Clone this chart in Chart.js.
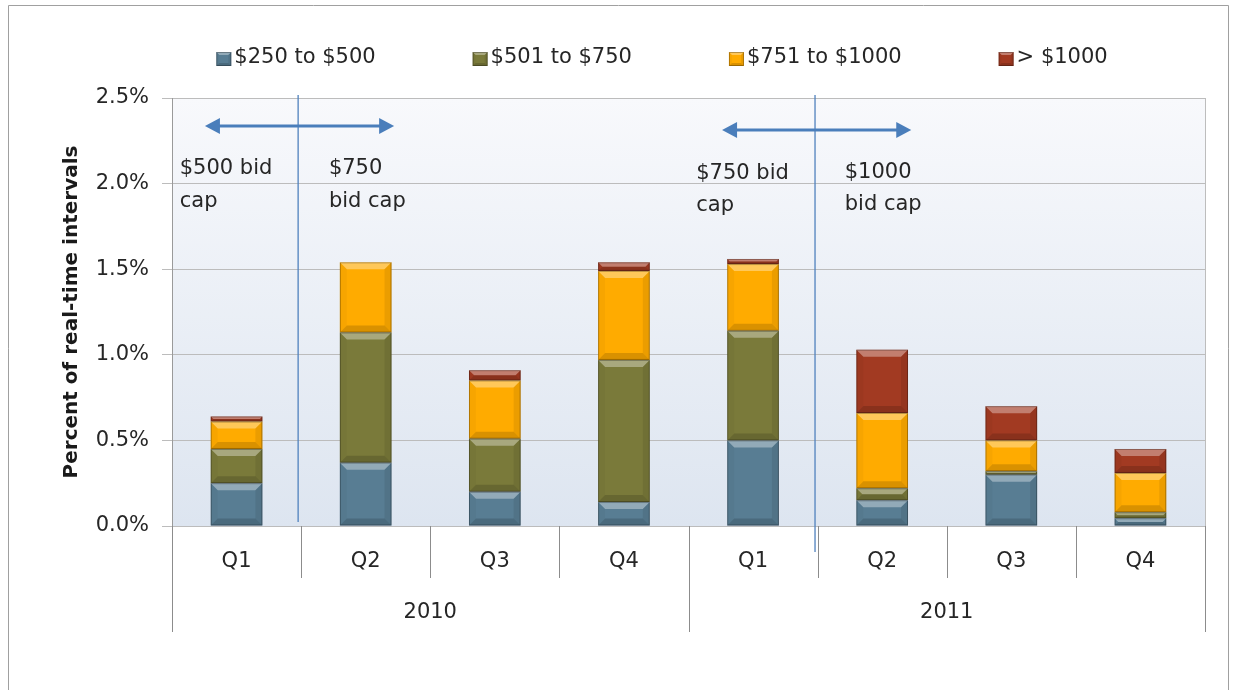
<!DOCTYPE html>
<html><head><meta charset="utf-8">
<script src="https://cdn.jsdelivr.net/npm/chart.js@4.4.0/dist/chart.umd.min.js"></script>
<style>html,body{margin:0;padding:0;background:#fff;overflow:hidden}#wrap{width:1235px;height:690px;position:relative}</style>
</head><body><div id="wrap"><canvas id="c" width="1235" height="690"></canvas></div>
<script>
// ---- data ----
const categories = ['Q1','Q2','Q3','Q4','Q1','Q2','Q3','Q4'];
const years = ['2010','2011'];
const seriesNames = ['$250 to $500','$501 to $750','$751 to $1000','> $1000'];
const s250to500  = [0.25, 0.37, 0.20, 0.14, 0.50, 0.15, 0.30, 0.045];
const s501to750  = [0.20, 0.76, 0.31, 0.83, 0.64, 0.07, 0.02, 0.035];
const s751to1000 = [0.16, 0.41, 0.34, 0.52, 0.39, 0.44, 0.18, 0.23];
const sOver1000  = [0.03, 0.00, 0.06, 0.05, 0.03, 0.37, 0.20, 0.14];
const yTickValues = [0, 0.5, 1.0, 1.5, 2.0, 2.5];
const yTitle = 'Percent of real-time intervals';
const capLeftText2010 = ['$500 bid','cap'];
const capRightText2010 = ['$750','bid cap'];
const capLeftText2011 = ['$750 bid','cap'];
const capRightText2011 = ['$1000','bid cap'];

// ---- styles ----
const FONT = 'DejaVu Sans';
const TXT = '#262626';
const colors = ['#587d93', '#7a7a3a', '#ffab00', '#a23a22'];
Chart.defaults.font.family = FONT;
Chart.defaults.color = TXT;

function poly(ctx, pts){ctx.beginPath();ctx.moveTo(pts[0][0],pts[0][1]);for(let i=1;i<pts.length;i++)ctx.lineTo(pts[i][0],pts[i][1]);ctx.closePath();ctx.fill();}
function bevel(ctx,l,t,r,b,big){
  const w=r-l,h=b-t; if(h<0.8) return;
  const d=Math.min(big?7:3,h/2,w/2);
  ctx.save();
  ctx.fillStyle='rgba(255,255,255,0.35)'; poly(ctx,[[l,t],[r,t],[r-d,t+d],[l+d,t+d]]);
  ctx.fillStyle='rgba(0,0,0,0.03)'; poly(ctx,[[l,t],[l+d,t+d],[l+d,b-d],[l,b]]);
  ctx.fillStyle='rgba(0,0,0,0.08)'; poly(ctx,[[r,t],[r,b],[r-d,b-d],[r-d,t+d]]);
  ctx.fillStyle='rgba(0,0,0,0.15)'; poly(ctx,[[l,b],[r,b],[r-d,b-d],[l+d,b-d]]);
  ctx.strokeStyle='rgba(0,0,0,0.28)'; ctx.lineWidth=1; ctx.strokeRect(l+0.5,t+0.5,w-1,Math.max(h-1,0));
  ctx.restore();
}

const decor = {
  id:'decor',
  beforeDraw(chart){
    const {ctx, chartArea:a} = chart;
    ctx.save();
    ctx.fillStyle='#fff'; ctx.fillRect(0,0,chart.width,chart.height);
    const g=ctx.createLinearGradient(0,a.top,0,a.bottom);
    g.addColorStop(0,'#f8f9fc'); g.addColorStop(1,'#dde5f0');
    ctx.fillStyle=g; ctx.fillRect(a.left,a.top,a.right-a.left,a.bottom-a.top);
    ctx.strokeStyle='#a0a0a0'; ctx.lineWidth=1;
    ctx.beginPath(); ctx.moveTo(8.5,chart.height+2); ctx.lineTo(8.5,5.5); ctx.lineTo(1228.5,5.5); ctx.lineTo(1228.5,chart.height+2); ctx.stroke();
    ctx.restore();
  },
  afterDatasetsDraw(chart){
    const ctx=chart.ctx;
    chart.data.datasets.forEach((ds,di)=>{
      chart.getDatasetMeta(di).data.forEach(el=>{
        const p=el.getProps(['x','y','base','width'],true);
        const t=Math.min(p.y,p.base), b=Math.max(p.y,p.base);
        bevel(ctx,p.x-p.width/2,t,p.x+p.width/2,b,true);
      });
    });
  },
  afterDraw(chart){
    const {ctx, chartArea:a, scales:{x,y}} = chart;
    const cw = x.getPixelForValue(1)-x.getPixelForValue(0);
    const bnd = i => x.getPixelForValue(0) - cw/2 + i*cw;
    ctx.save();
    ctx.strokeStyle='#bdbdbd'; ctx.lineWidth=1;
    ctx.beginPath(); ctx.moveTo(Math.round(a.right)+0.5,a.top); ctx.lineTo(Math.round(a.right)+0.5,a.bottom); ctx.stroke();
    ctx.strokeStyle='#8c8c8c';
    for(let i=0;i<=categories.length;i++){
      const xx=Math.round(bnd(i))+0.5;
      const long = (i%4===0);
      ctx.beginPath(); ctx.moveTo(xx,a.bottom); ctx.lineTo(xx,a.bottom+(long?106:52)); ctx.stroke();
    }
    ctx.fillStyle=TXT; ctx.font='21px "'+FONT+'"'; ctx.textAlign='center'; ctx.textBaseline='middle';
    years.forEach((yr,k)=>{ ctx.fillText(yr,(bnd(k*4)+bnd(k*4+4))/2,a.bottom+87); });

    ctx.strokeStyle='#4f81bd'; ctx.lineWidth=1.3;
    const v1=bnd(1)-3, v2=bnd(5)-2.6;
    ctx.beginPath(); ctx.moveTo(v1,a.top-3); ctx.lineTo(v1,a.bottom-4); ctx.stroke();
    ctx.beginPath(); ctx.moveTo(v2,a.top-3); ctx.lineTo(v2,a.bottom+26); ctx.stroke();

    function arrow(x1,x2,yy){
      ctx.strokeStyle='#4a7ebb'; ctx.fillStyle='#4a7ebb'; ctx.lineWidth=3;
      const hl=15, hw=8;
      ctx.beginPath(); ctx.moveTo(x1+hl-2,yy); ctx.lineTo(x2-hl+2,yy); ctx.stroke();
      poly(ctx,[[x1,yy],[x1+hl,yy-hw],[x1+hl,yy+hw]]);
      poly(ctx,[[x2,yy],[x2-hl,yy-hw],[x2-hl,yy+hw]]);
    }
    arrow(x.getPixelForValue(0)-0.245*cw, x.getPixelForValue(1)+0.22*cw, y.getPixelForValue(2.336));
    arrow(x.getPixelForValue(4)-0.24*cw, x.getPixelForValue(5)+0.225*cw, y.getPixelForValue(2.313));

    ctx.fillStyle=TXT; ctx.font='21px "'+FONT+'"'; ctx.textAlign='left'; ctx.textBaseline='middle';
    function note(lines,xi,off,v1_,v2_){
      const xx=x.getPixelForValue(xi)+off*cw;
      ctx.fillText(lines[0],xx,y.getPixelForValue(v1_));
      ctx.fillText(lines[1],xx,y.getPixelForValue(v2_));
    }
    note(capLeftText2010,0,-0.44,2.09,1.897);
    note(capRightText2010,1,-0.285,2.09,1.897);
    note(capLeftText2011,4,-0.44,2.06,1.874);
    note(capRightText2011,5,-0.29,2.066,1.879);

    ctx.font='21px "'+FONT+'"'; ctx.textBaseline='middle'; ctx.textAlign='left';
    const box=15, gapBT=3, gap=97;
    const widths=seriesNames.map(s=>box+gapBT+ctx.measureText(s).width);
    const total=widths.reduce((p,c)=>p+c,0)+gap*(widths.length-1);
    let lx=662-total/2; const ly=59;
    seriesNames.forEach((s,i)=>{
      ctx.fillStyle=colors[i]; ctx.fillRect(lx,ly-7,box,box-1);
      bevel(ctx,lx,ly-7,lx+box,ly+7,false);
      ctx.fillStyle=TXT; ctx.fillText(s,lx+box+gapBT,ly-1);
      lx+=widths[i]+gap;
    });
    ctx.restore();
  }
};

const datasets=[s250to500,s501to750,s751to1000,sOver1000].map((d,i)=>({
  label:seriesNames[i], data:d, backgroundColor:colors[i], borderWidth:0,
  barPercentage:0.4, categoryPercentage:1.0
}));

new Chart(document.getElementById('c'),{
  type:'bar',
  data:{labels:categories,datasets},
  plugins:[decor],
  options:{
    responsive:false, animation:false, devicePixelRatio:1,
    layout:{padding:{top:98,right:30,left:0,bottom:0}},
    plugins:{legend:{display:false},tooltip:{enabled:false}},
    scales:{
      x:{stacked:true,
        grid:{display:false,drawTicks:false},
        border:{display:false},
        ticks:{font:{size:21},color:TXT,padding:23,maxRotation:0,autoSkip:false},
        afterFit(s){s.height=164;}
      },
      y:{stacked:true,min:0,max:2.5,
        afterBuildTicks(s){s.ticks=yTickValues.map(v=>({value:v}));},
        ticks:{font:{size:21},color:TXT,padding:13,callback:v=>v.toFixed(1)+'%'},
        grid:{color:'#bcbcbc',tickLength:10,lineWidth:1},
        border:{display:true,color:'#9a9a9a'},
        title:{display:true,text:yTitle,font:{size:20,weight:'bold'},color:'#1a1a1a',padding:{top:60,bottom:0}},
        afterFit(s){s.width=172;}
      }
    }
  }
});
</script></body></html>
